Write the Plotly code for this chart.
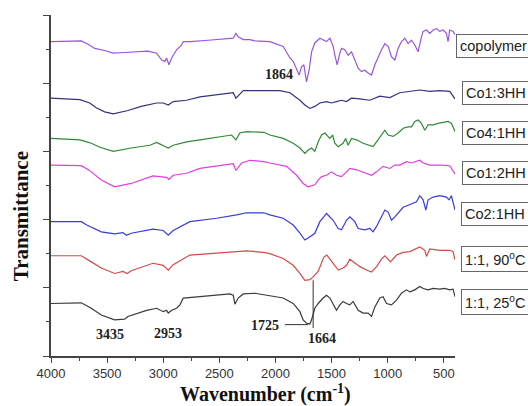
import plotly.graph_objects as go

# ---------------- data (wavenumber in cm-1, offset transmittance in arbitrary units) ----------------
copolymer_wn = [4000, 3730, 3670, 3611, 3522, 3448, 3344, 3136, 3059, 3014, 2985, 2970, 2949, 2925, 2881, 2836, 2822, 2762, 2599, 2435,
                2376, 2352, 2332, 2287, 2228, 2183, 2050, 1931, 1871, 1842, 1812, 1789, 1767, 1747, 1723, 1700, 1678, 1649, 1604, 1575,
                1545, 1515, 1486, 1471, 1450, 1426, 1411, 1382, 1352, 1322, 1293, 1263, 1233, 1204, 1174, 1144, 1114, 1085, 1055, 1025,
                996, 966, 936, 907, 877, 847, 818, 788, 758, 729, 714, 699, 684, 654, 625, 595, 565, 536, 506, 476, 462, 447, 417, 400]
copolymer_t = [4.61, 4.62, 4.57, 4.51, 4.48, 4.44, 4.45, 4.47, 4.44, 4.34, 4.32, 4.37, 4.27, 4.37, 4.49, 4.56, 4.61, 4.61, 4.63, 4.66,
               4.66, 4.73, 4.68, 4.64, 4.64, 4.62, 4.61, 4.54, 4.37, 4.32, 4.19, 4.12, 4.24, 4.27, 4.02, 4.19, 4.46, 4.59, 4.66, 4.63,
               4.61, 4.66, 4.54, 4.41, 4.27, 4.44, 4.51, 4.49, 4.41, 4.46, 4.34, 4.22, 4.17, 4.19, 4.15, 4.12, 4.27, 4.39, 4.49, 4.58,
               4.54, 4.39, 4.34, 4.51, 4.61, 4.66, 4.58, 4.63, 4.56, 4.46, 4.58, 4.68, 4.76, 4.78, 4.73, 4.78, 4.80, 4.76, 4.78, 4.73,
               4.61, 4.78, 4.76, 4.71]

co13_wn = [4000, 3849, 3742, 3655, 3597, 3522, 3445, 3314, 3196, 3059, 3000, 2955, 2911, 2792, 2673, 2376, 2352, 2317, 2287, 2103,
           1961, 1871, 1782, 1738, 1693, 1649, 1604, 1545, 1500, 1456, 1411, 1367, 1322, 1248, 1159, 1070, 981, 892, 803, 714,
           625, 536, 447, 400]
co13_t = [3.78, 3.77, 3.76, 3.71, 3.64, 3.58, 3.55, 3.60, 3.66, 3.71, 3.71, 3.68, 3.73, 3.75, 3.80, 3.86, 3.78, 3.84, 3.89, 3.89,
          3.89, 3.86, 3.75, 3.68, 3.63, 3.66, 3.71, 3.73, 3.71, 3.73, 3.75, 3.73, 3.78, 3.77, 3.75, 3.81, 3.79, 3.86, 3.88, 3.90,
          3.88, 3.89, 3.88, 3.77]

co41_wn = [4000, 3742, 3682, 3641, 3564, 3445, 3285, 3118, 3059, 3000, 2955, 2911, 2792, 2673, 2391, 2352, 2317, 2257, 2103, 2050,
           1931, 1842, 1782, 1738, 1708, 1678, 1649, 1619, 1589, 1560, 1515, 1491, 1471, 1441, 1397, 1375, 1352, 1322, 1277, 1219,
           1159, 1130, 1099, 1055, 1025, 996, 951, 907, 862, 818, 788, 758, 729, 699, 669, 640, 595, 551, 506, 462, 431, 400]
co41_t = [3.19, 3.17, 3.14, 3.12, 3.06, 3.00, 3.05, 3.09, 3.13, 3.08, 3.05, 3.09, 3.14, 3.17, 3.24, 3.17, 3.27, 3.29, 3.28, 3.24,
          3.19, 3.12, 3.05, 2.97, 3.02, 3.05, 3.00, 3.14, 3.24, 3.27, 3.19, 3.24, 3.12, 3.07, 3.12, 3.19, 3.09, 3.19, 3.17, 3.12,
          3.09, 3.07, 3.14, 3.24, 3.31, 3.24, 3.22, 3.27, 3.34, 3.36, 3.36, 3.44, 3.46, 3.41, 3.31, 3.39, 3.39, 3.41, 3.42, 3.44,
          3.41, 3.29]

co12_wn = [4000, 3730, 3668, 3641, 3552, 3433, 3285, 3092, 2970, 2949, 2911, 2792, 2673, 2376, 2352, 2302, 2228, 2103, 2050, 1901,
           1812, 1753, 1709, 1678, 1649, 1619, 1589, 1545, 1500, 1456, 1411, 1367, 1337, 1278, 1204, 1144, 1099, 1041, 981, 936,
           892, 832, 788, 743, 714, 684, 625, 536, 447, 400]
co12_t = [2.80, 2.79, 2.73, 2.70, 2.58, 2.48, 2.53, 2.64, 2.62, 2.59, 2.65, 2.68, 2.75, 2.82, 2.72, 2.83, 2.87, 2.85, 2.83, 2.78,
          2.65, 2.53, 2.48, 2.49, 2.51, 2.58, 2.63, 2.65, 2.70, 2.65, 2.63, 2.70, 2.75, 2.73, 2.68, 2.65, 2.70, 2.78, 2.75, 2.80,
          2.80, 2.85, 2.83, 2.85, 2.87, 2.83, 2.80, 2.80, 2.79, 2.67]

co21_wn = [4000, 3730, 3682, 3641, 3552, 3433, 3359, 3328, 3285, 3092, 3000, 2955, 2911, 2762, 2524, 2346, 2257, 2103, 2050, 1931,
           1842, 1782, 1738, 1709, 1678, 1649, 1604, 1545, 1486, 1441, 1411, 1367, 1337, 1293, 1263, 1204, 1159, 1130, 1099, 1055,
           1025, 996, 966, 936, 892, 862, 818, 773, 743, 714, 684, 660, 640, 595, 536, 476, 453, 432, 400]
co21_t = [1.97, 1.97, 1.92, 1.89, 1.82, 1.79, 1.81, 1.77, 1.80, 1.86, 1.84, 1.77, 1.84, 1.97, 2.02, 2.07, 2.10, 2.10, 2.07, 2.02,
          1.92, 1.80, 1.70, 1.73, 1.77, 1.80, 1.97, 2.09, 1.99, 1.87, 1.85, 1.99, 2.04, 1.97, 1.87, 1.85, 1.87, 1.82, 1.90, 2.04,
          2.14, 2.11, 1.99, 2.04, 2.12, 2.18, 2.21, 2.24, 2.26, 2.35, 2.29, 2.14, 2.29, 2.33, 2.35, 2.33, 2.29, 2.35, 2.14]

s90_wn = [4000, 3730, 3641, 3552, 3433, 3359, 3323, 3285, 3092, 3000, 2955, 2911, 2762, 2524, 2346, 2257, 2103, 2050, 1931, 1842,
          1782, 1738, 1693, 1664, 1619, 1569, 1542, 1500, 1471, 1440, 1397, 1367, 1337, 1293, 1248, 1188, 1144, 1099, 1055, 1025,
          975, 921, 862, 803, 743, 714, 669, 654, 625, 536, 447, 417, 400]
s90_t = [1.47, 1.47, 1.38, 1.29, 1.21, 1.24, 1.21, 1.25, 1.36, 1.33, 1.26, 1.34, 1.48, 1.51, 1.53, 1.54, 1.52, 1.50, 1.43, 1.33,
         1.21, 1.11, 1.12, 1.16, 1.24, 1.45, 1.48, 1.39, 1.33, 1.26, 1.29, 1.33, 1.42, 1.37, 1.31, 1.26, 1.23, 1.31, 1.42, 1.47,
         1.38, 1.48, 1.52, 1.53, 1.57, 1.60, 1.55, 1.46, 1.57, 1.55, 1.55, 1.53, 1.41]

s25_wn = [4000, 3730, 3641, 3552, 3433, 3344, 3314, 3148, 3059, 3000, 2970, 2955, 2925, 2881, 2851, 2822, 2673, 2406, 2376, 2361,
          2332, 2287, 2183, 2050, 1931, 1842, 1782, 1753, 1723, 1693, 1678, 1649, 1619, 1575, 1545, 1515, 1486, 1456, 1426, 1397,
          1367, 1337, 1308, 1263, 1219, 1174, 1144, 1114, 1070, 1041, 1010, 966, 921, 877, 832, 803, 758, 714, 684, 640,
          595, 536, 491, 447, 417, 400]
s25_t = [0.77, 0.78, 0.70, 0.60, 0.53, 0.54, 0.58, 0.67, 0.70, 0.65, 0.67, 0.63, 0.67, 0.70, 0.75, 0.85, 0.87, 0.91, 0.89, 0.76,
         0.85, 0.91, 0.92, 0.88, 0.85, 0.77, 0.65, 0.53, 0.48, 0.47, 0.53, 0.70, 0.77, 0.85, 0.89, 0.85, 0.75, 0.67, 0.75, 0.80,
         0.77, 0.75, 0.80, 0.67, 0.63, 0.63, 0.58, 0.72, 0.85, 0.87, 0.77, 0.75, 0.82, 0.92, 0.97, 0.94, 0.97, 1.02, 0.99, 0.97,
         0.99, 0.98, 0.99, 0.97, 0.98, 0.87]

series_names = ["copolymer", "Co1:3HH", "Co4:1HH", "Co1:2HH", "Co2:1HH", "1:1, 90<sup>o</sup>C", "1:1, 25<sup>o</sup>C"]
series_wn = [copolymer_wn, co13_wn, co41_wn, co12_wn, co21_wn, s90_wn, s25_wn]
series_t = [copolymer_t, co13_t, co41_t, co12_t, co21_t, s90_t, s25_t]

# peak labels
peak_labels = ["3435", "2953", "1725", "1664", "1864"]
peak_label_wn = [3475, 2955, 2094, 1584, 1969]
peak_label_t = [0.31, 0.33, 0.45, 0.26, 4.13]
# leader lines (wn0, t0, wn1, t1)
leader_lines = [(1916, 0.46, 1709, 0.46), (1664, 0.41, 1664, 1.11)]

x_ticks = [4000, 3500, 3000, 2500, 2000, 1500, 1000, 500]
x_minor_ticks = [3750, 3250, 2750, 2250, 1750, 1250, 750]

# ---------------- styling ----------------
colors = ["#9a55dc", "#33337f", "#2f8a37", "#e03ce0", "#3a3ae0", "#d84848", "#3a3a3a"]
label_y = [0.908, 0.770, 0.654, 0.538, 0.416, 0.284, 0.158]
label_x = [1.002, 1.017, 1.017, 1.017, 1.015, 1.015, 1.015]

fig = go.Figure()
for name, wn, t, c in zip(series_names, series_wn, series_t, colors):
    fig.add_trace(go.Scatter(x=wn, y=t, mode="lines", name=name,
                             line=dict(color=c, width=1.2), showlegend=False))

annotations = []
for name, lx, ly in zip(series_names, label_x, label_y):
    annotations.append(dict(xref="paper", yref="paper", x=lx, y=ly, xanchor="left", yanchor="middle",
                            text=name, showarrow=False,
                            font=dict(family="Liberation Sans, Arial", size=14.5, color="#222"),
                            bordercolor="#666", borderwidth=1, borderpad=3, bgcolor="white"))
for txt, wx, ty in zip(peak_labels, peak_label_wn, peak_label_t):
    annotations.append(dict(x=wx, y=ty, xref="x", yref="y", text="<b>%s</b>" % txt, showarrow=False,
                            font=dict(family="Liberation Serif, Times New Roman", size=14, color="#222")))
annotations.append(dict(xref="paper", yref="paper", x=0.532, y=-0.11, xanchor="center", yanchor="middle",
                        text="<b>Wavenumber (cm<sup>-1</sup>)</b>", showarrow=False,
                        font=dict(family="Liberation Serif, Times New Roman", size=20, color="#111")))
annotations.append(dict(xref="paper", yref="paper", x=-0.074, y=0.41, xanchor="center", yanchor="middle",
                        text="<b>Transmittance</b>", showarrow=False, textangle=-90,
                        font=dict(family="Liberation Serif, Times New Roman", size=21, color="#111")))

shapes = []
for (a0, b0, a1, b1) in leader_lines:
    shapes.append(dict(type="line", xref="x", yref="y", x0=a0, y0=b0, x1=a1, y1=b1,
                       line=dict(color="#333", width=1)))

fig.update_layout(
    width=528, height=406,
    margin=dict(l=51, r=73, t=15, b=50),
    paper_bgcolor="white", plot_bgcolor="white",
    annotations=annotations, shapes=shapes,
    xaxis=dict(range=[4000, 400], tickvals=x_ticks, ticks="outside", ticklen=5, tickwidth=1.2,
               tickcolor="#444", showline=True, linecolor="#444", linewidth=1.5, showgrid=False, zeroline=False,
               tickfont=dict(family="Liberation Sans, Arial", size=13, color="#333"),
               minor=dict(tickvals=x_minor_ticks, ticks="outside", ticklen=3,
                          tickcolor="#444", showgrid=False)),
    yaxis=dict(range=[0, 5], dtick=1, tick0=0, ticks="outside", ticklen=6, tickwidth=1.2, tickcolor="#444",
               showticklabels=False, showline=True, linecolor="#444", linewidth=1.5, showgrid=False, zeroline=False,
               minor=dict(dtick=0.5, ticks="outside", ticklen=3, tickcolor="#444", showgrid=False)),
)

fig.write_html("out.html")
